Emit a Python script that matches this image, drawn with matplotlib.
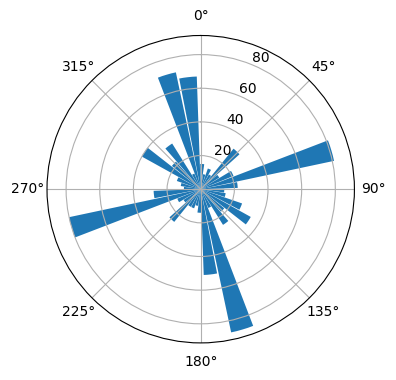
import numpy as np
import matplotlib
matplotlib.use("Agg")
import matplotlib.pyplot as plt

# Bar directions (degrees, clockwise from north) and lengths
angles_deg = [3.5, 13.5, 23.5, 33.5, 43.5, 53.5, 63.5, 73.5, 83.5, 93.5,
              103.5, 113.5, 123.5, 133.5, 143.5, 153.5, 163.5, 173.5, 183.5, 193.5,
              203.5, 213.5, 223.5, 233.5, 243.5, 253.5, 263.5, 273.5, 283.5, 293.5,
              303.5, 313.5, 323.5, 333.5, 343.5, 353.5]
values = [15, 9, 13, 10, 31, 13, 21, 81, 22, 14,
          15, 26, 34, 18, 25, 12, 87, 51, 14, 10,
          12, 12, 25, 12, 15, 80, 28, 10, 12, 15,
          40, 22, 32, 10, 71, 67]
bar_width_deg = 9

fig = plt.figure(figsize=(3.96, 3.8), dpi=100)
ax = fig.add_axes([0.1187, 0.0976, 0.7763, 0.809], projection='polar')
ax.set_theta_zero_location('N')
ax.set_theta_direction(-1)

ax.bar(np.deg2rad(angles_deg), values, width=np.deg2rad(bar_width_deg), color='#1f77b4')
ax.set_rticks([20, 40, 60, 80])

fig.savefig('out.png', dpi=100)
